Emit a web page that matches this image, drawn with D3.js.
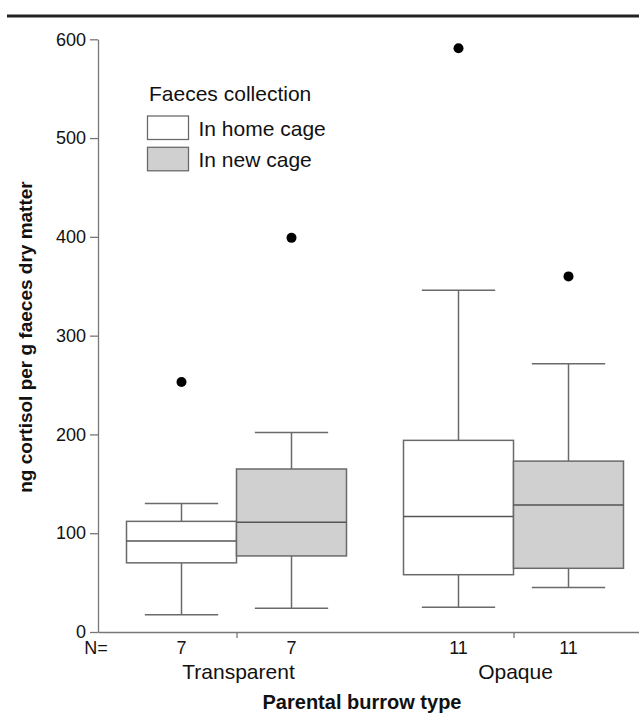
<!DOCTYPE html>
<html>
<head>
<meta charset="utf-8">
<script src="https://cdn.jsdelivr.net/npm/d3@7"></script>
<style>
  html, body { margin: 0; padding: 0; background: #fff; }
  svg { display: block; font-family: "Liberation Sans", Arial, sans-serif; }
</style>
</head>
<body>
<svg id="chart" width="639" height="716"></svg>
<script>
// ---- data ----
const groups = ["Transparent", "Opaque"];
const series = ["In home cage", "In new cage"];
const seriesFill = ["#ffffff", "#d0d0d0"];
// box statistics, order: [Transparent-home, Transparent-new, Opaque-home, Opaque-new]
const boxGroup   = ["Transparent", "Transparent", "Opaque", "Opaque"];
const boxSeries  = ["In home cage", "In new cage", "In home cage", "In new cage"];
const whiskerLow = [17.5, 24, 25, 45];
const quart1     = [70, 77, 58, 64.5];
const medians    = [92, 111, 117, 128.5];
const quart3     = [112, 165, 194, 173];
const whiskerHigh= [130, 202, 346, 271.5];
const outliers   = [253, 399, 591, 360];
const counts     = [7, 7, 11, 11];
const yTicks     = [0, 100, 200, 300, 400, 500, 600];

(function () {
const boxes = boxGroup.map((g, i) => ({
  g, s: boxSeries[i], lo: whiskerLow[i], q1: quart1[i], med: medians[i],
  q3: quart3[i], hi: whiskerHigh[i], out: outliers[i], n: counts[i]
}));

const svg = d3.select("#chart");
const mLeft = 98, mBottom = 632, mTop = 39.3;

// top rule
svg.append("line").attr("x1", 7).attr("x2", 639).attr("y1", 16).attr("y2", 16)
  .attr("stroke", "#222").attr("stroke-width", 3);

const y = d3.scaleLinear().domain([0, 600]).range([mBottom, mTop]);
const x = d3.scalePoint().domain(groups).range([mLeft, 652]).padding(0.5);
const xs = d3.scaleBand().domain(series).range([-110, 110]);
const fill = d3.scaleOrdinal().domain(series).range(seriesFill);

// y axis
const yAxis = svg.append("g").attr("transform", `translate(${mLeft},0)`)
  .call(d3.axisLeft(y).tickValues(yTicks).tickSize(8).tickPadding(4).tickSizeOuter(0));
yAxis.select(".domain").attr("stroke", "#777").attr("stroke-width", 1.3);
yAxis.selectAll(".tick line").attr("stroke", "#777").attr("stroke-width", 1.3);
yAxis.selectAll(".tick text").attr("font-size", 18).attr("fill", "#111")
  .attr("font-family", "Liberation Sans, Arial, sans-serif");

// x axis
const xAxis = svg.append("g").attr("transform", `translate(0,${mBottom})`)
  .call(d3.axisBottom(x).tickSize(6).tickSizeOuter(0).tickFormat(""));
xAxis.select(".domain").attr("stroke", "#777").attr("stroke-width", 1.3);
xAxis.selectAll(".tick line").attr("stroke", "#777").attr("stroke-width", 1.3);

// group labels
svg.append("g").selectAll("text").data(groups).join("text")
  .attr("x", d => x(d) + 2).attr("y", 679).attr("text-anchor", "middle")
  .attr("font-size", 21).attr("fill", "#111").text(d => d);

// N labels
svg.append("text").attr("x", 96).attr("y", 654).attr("text-anchor", "middle")
  .attr("font-size", 18).attr("fill", "#111").text("N=");
svg.append("g").selectAll("text").data(boxes).join("text")
  .attr("x", d => x(d.g) + xs(d.s) + xs.bandwidth() / 2)
  .attr("y", 654).attr("text-anchor", "middle")
  .attr("font-size", 18).attr("fill", "#111").text(d => d.n);

// boxes
const bw = xs.bandwidth();
const capW = bw * 2 / 3;
const bg = svg.append("g").selectAll("g").data(boxes).join("g")
  .attr("transform", d => `translate(${x(d.g) + xs(d.s)},0)`);
const stroke = "#6a6a6a";
// whiskers
bg.append("line").attr("x1", bw / 2).attr("x2", bw / 2)
  .attr("y1", d => y(d.hi)).attr("y2", d => y(d.q3))
  .attr("stroke", stroke).attr("stroke-width", 1.5);
bg.append("line").attr("x1", bw / 2).attr("x2", bw / 2)
  .attr("y1", d => y(d.q1)).attr("y2", d => y(d.lo))
  .attr("stroke", stroke).attr("stroke-width", 1.5);
bg.append("line").attr("x1", bw / 2 - capW / 2).attr("x2", bw / 2 + capW / 2)
  .attr("y1", d => y(d.hi)).attr("y2", d => y(d.hi))
  .attr("stroke", stroke).attr("stroke-width", 1.5);
bg.append("line").attr("x1", bw / 2 - capW / 2).attr("x2", bw / 2 + capW / 2)
  .attr("y1", d => y(d.lo)).attr("y2", d => y(d.lo))
  .attr("stroke", stroke).attr("stroke-width", 1.5);
// box
bg.append("rect").attr("x", 0).attr("width", bw)
  .attr("y", d => y(d.q3)).attr("height", d => y(d.q1) - y(d.q3))
  .attr("fill", d => fill(d.s)).attr("stroke", stroke).attr("stroke-width", 1.5);
bg.append("line").attr("x1", 0).attr("x2", bw)
  .attr("y1", d => y(d.med)).attr("y2", d => y(d.med))
  .attr("stroke", "#555").attr("stroke-width", 1.5);
// outliers
bg.append("circle").attr("cx", bw / 2).attr("cy", d => y(d.out)).attr("r", 5)
  .attr("fill", "#000");

// legend
const lg = svg.append("g");
lg.append("text").attr("x", 149).attr("y", 101).attr("font-size", 21).attr("fill", "#111")
  .text("Faeces collection");
const li = lg.selectAll("g.item").data(series).join("g").attr("class", "item")
  .attr("transform", (d, i) => `translate(147.5,${116 + i * 31.3})`);
li.append("rect").attr("width", 41).attr("height", 23.5)
  .attr("fill", d => fill(d)).attr("stroke", stroke).attr("stroke-width", 1.3);
li.append("text").attr("x", 51).attr("y", 20).attr("font-size", 21).attr("fill", "#111")
  .text(d => d);

// axis titles
svg.append("text").attr("x", 362).attr("y", 709).attr("text-anchor", "middle")
  .attr("font-size", 20).attr("font-weight", "bold").attr("fill", "#111")
  .text("Parental burrow type");
svg.append("text").attr("transform", "translate(32,337) rotate(-90)")
  .attr("text-anchor", "middle").attr("font-size", 19).attr("font-weight", "bold")
  .attr("fill", "#111").text("ng cortisol per g faeces dry matter");
})();
</script>
</body>
</html>
